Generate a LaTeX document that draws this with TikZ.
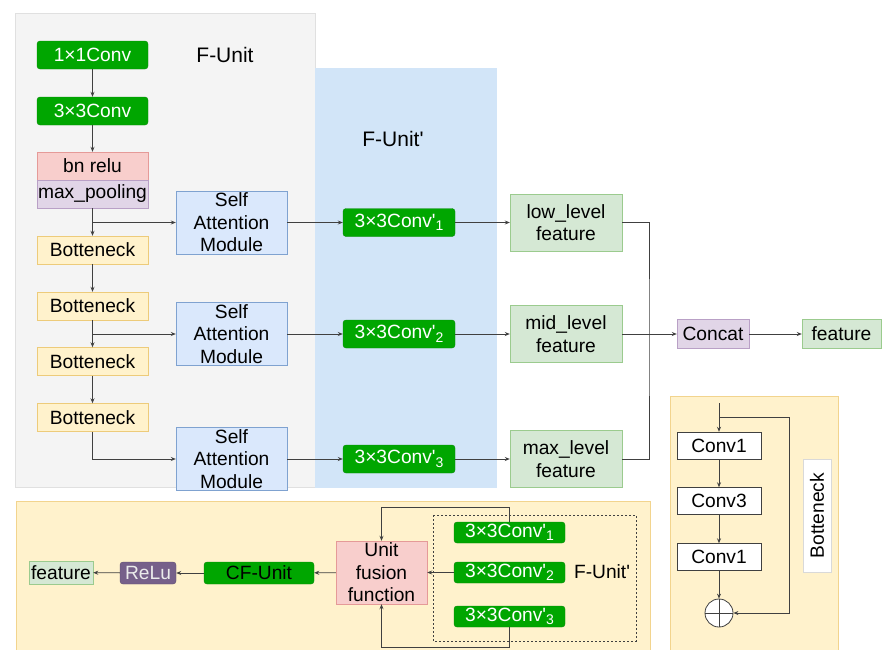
\documentclass[tikz,border=0pt]{standalone}
\usepackage{fontspec}
\setmainfont{Liberation Sans}
\usetikzlibrary{arrows.meta}

\definecolor{convfill}{HTML}{00A600}
\definecolor{convline}{HTML}{0A8A0A}
\definecolor{relufill}{HTML}{F8CECC}
\definecolor{reluline}{HTML}{E59A98}
\definecolor{poolfill}{HTML}{E1D5E7}
\definecolor{poolline}{HTML}{B9A0C6}
\definecolor{btfill}{HTML}{FFF2CC}
\definecolor{btline}{HTML}{EDCB7A}
\definecolor{safill}{HTML}{DAE8FC}
\definecolor{saline}{HTML}{7FA2D0}
\definecolor{featfill}{HTML}{D5E8D4}
\definecolor{featline}{HTML}{9BCB8E}
\definecolor{unitgray}{HTML}{F4F4F4}
\definecolor{unitblue}{HTML}{D2E5F8}
\definecolor{panelline}{HTML}{F2D48E}
\definecolor{purple}{HTML}{76608A}
\definecolor{linegray}{HTML}{404040}

\newcommand{\convp}[1]{3×3Conv\textquotesingle\raisebox{-0.35ex}{\fontsize{14}{14}\selectfont#1}}

\begin{document}
\begin{tikzpicture}[x=1pt, y=-1pt, >={Stealth[length=5pt,width=4pt]},
    every node/.style={font=\fontsize{19.2}{22.5}\selectfont},
    box/.style={draw, minimum width=111pt, minimum height=28pt, inner sep=1pt, align=center},
    conv/.style={box, draw=convline, fill=convfill, text=white, rounded corners=3pt},
    bnrelu/.style={box, draw=reluline, fill=relufill},
    pool/.style={box, draw=poolline, fill=poolfill},
    btbox/.style={box, draw=btline, fill=btfill},
    sabox/.style={box, draw=saline, fill=safill, minimum height=63pt},
    featbox/.style={box, draw=featline, fill=featfill, minimum height=57pt, minimum width=112pt},
    small/.style={box, minimum height=22pt},
    title/.style={font=\fontsize{21}{24}\selectfont},
    link/.style={draw=linegray, line width=0.8pt}]
    \useasboundingbox (0,0) rectangle (883,649);

    % panels
    \filldraw[fill=unitgray, draw=black!12] (15,13) rectangle (315,487);
    \fill[unitblue] (315,68) rectangle (497,488);
    \filldraw[fill=btfill, draw=panelline] (16,501) rectangle (650,660);
    \filldraw[fill=btfill, draw=panelline] (670,396) rectangle (838,660);
    \node[title] at (225,55) {F-Unit};
    \node[title] at (393,139) {F-Unit\textquotesingle};

    % F-Unit
    \node[conv] (c11) at (92.5,55) {1×1Conv};
    \node[conv] (c33) at (92.5,111) {3×3Conv};
    \node[bnrelu] (bnr) at (92.5,166) {bn relu};
    \node[pool] (mpool) at (92.5,194) {max\_pooling};
    \node[btbox] (bt1) at (92.5,250) {Botteneck};
    \node[btbox] (bt2) at (92.5,306) {Botteneck};
    \node[btbox] (bt3) at (92.5,361.5) {Botteneck};
    \node[btbox] (bt4) at (92.5,417.5) {Botteneck};
    \node[sabox] (sa1) at (231.5,222.5) {Self\\Attention\\Module};
    \node[sabox] (sa2) at (231.5,334) {Self\\Attention\\Module};
    \node[sabox] (sa3) at (231.5,459) {Self\\Attention\\Module};

    % F-Unit' and features
    \node[conv, minimum width=112pt] (cv1) at (399,222.5) {\convp{1}};
    \node[conv, minimum width=112pt] (cv2) at (399,334) {\convp{2}};
    \node[conv, minimum width=112pt] (cv3) at (399,459) {\convp{3}};
    \node[featbox] (low) at (566,222.5) {low\_level\\feature};
    \node[featbox] (mid) at (566,334) {mid\_level\\feature};
    \node[featbox] (high) at (566,459) {max\_level\\feature};
    \coordinate (join) at (649,334);
    \node[box, draw=poolline, fill=poolfill, minimum width=72pt, minimum height=29pt] (concat) at (713,334) {Concat};
    \node[box, draw=featline, fill=featfill, minimum width=79pt, minimum height=29pt] (feat) at (841.5,334) {feature};

    \draw[link,->] (c11) -- (c33);
    \draw[link,->] (c33) -- (bnr);
    \draw[link,->] (mpool) -- (bt1);
    \draw[link,->] (mpool.south |- sa1.west) -- (sa1.west);
    \draw[link,->] (bt1) -- (bt2);
    \draw[link,->] (bt2) -- (bt3);
    \draw[link,->] (bt3) -- (bt4);
    \draw[link,->] (bt2.south |- sa2.west) -- (sa2.west);
    \draw[link,->] (bt4.south) |- (sa3.west);
    \draw[link,->] (sa1) -- (cv1);
    \draw[link,->] (sa2) -- (cv2);
    \draw[link,->] (sa3) -- (cv3);
    \draw[link,->] (cv1) -- (low);
    \draw[link,->] (cv2) -- (mid);
    \draw[link,->] (cv3) -- (high);
    \draw[link] (low.east) -| (join) |- (high.east);
    \draw[link,->] (mid) -- (concat);
    \draw[link,->] (concat) -- (feat);

    % CF-Unit
    \node[small, draw=featline, fill=featfill, minimum width=64pt, minimum height=23pt, inner sep=0pt] (bfeat) at (61,572.5) {feature};
    \node[small, draw=purple!80!black, fill=purple, text=white!92!black, rounded corners=3pt, minimum width=56pt] (relu) at (148,573) {ReLu};
    \node[small, draw=convline, fill=convfill, rounded corners=3pt, minimum width=110pt] (cfu) at (259,573) {CF-Unit};
    \node[box, draw=reluline, fill=relufill, minimum width=91pt, minimum height=63pt] (fusion) at (381.5,572.5) {Unit\\fusion\\function};
    \draw[linegray, line width=0.6pt, dash pattern=on 2pt off 2pt] (433,515) rectangle (636,641);
    \node[conv, minimum height=21pt] (bc1) at (509.5,532.5) {\convp{1}};
    \node[conv, minimum height=21pt] (bc2) at (509.5,572.5) {\convp{2}};
    \node[conv, minimum height=21pt] (bc3) at (509.5,616.5) {\convp{3}};
    \node at (602,572) {F-Unit\textquotesingle};

    \draw[link,->] (bc2) -- (fusion);
    \draw[link,->] (bc1.north) -- ++(0,-14) -| (fusion.north);
    \draw[link,->] (bc3.south) -- ++(0,20) -| (fusion.south);
    \draw[link,->] (fusion) -- (cfu);
    \draw[link,->] (cfu) -- (relu);
    \draw[link,->] (relu) -- (bfeat);

    % Botteneck block
    \node[box, draw=linegray, fill=white, minimum width=84pt, minimum height=27pt] (k1) at (719,445.5) {Conv1};
    \node[box, draw=linegray, fill=white, minimum width=84pt, minimum height=27pt] (k3) at (719,501) {Conv3};
    \node[box, draw=linegray, fill=white, minimum width=84pt, minimum height=27pt] (k1b) at (719,557) {Conv1};
    \node[circle, draw=linegray, fill=white, line width=0.8pt, minimum size=28pt, inner sep=0pt] (sum) at (719,613) {};
    \draw[linegray, line width=0.8pt] (sum.north) -- (sum.south) (sum.west) -- (sum.east);
    \node[draw=black!15, fill=white, rotate=90, minimum width=113pt, minimum height=28pt, inner sep=1pt] (btlabel) at (817,515.5) {Botteneck};
    \coordinate (bin) at (719,403);
    \coordinate (skip) at (719,417);

    \draw[link,->] (bin) -- (k1);
    \draw[link,->] (k1) -- (k3);
    \draw[link,->] (k3) -- (k1b);
    \draw[link,->] (k1b) -- (sum);
    \draw[link,->] (skip) -- ++(70,0) |- (sum.east);
\end{tikzpicture}
\end{document}
